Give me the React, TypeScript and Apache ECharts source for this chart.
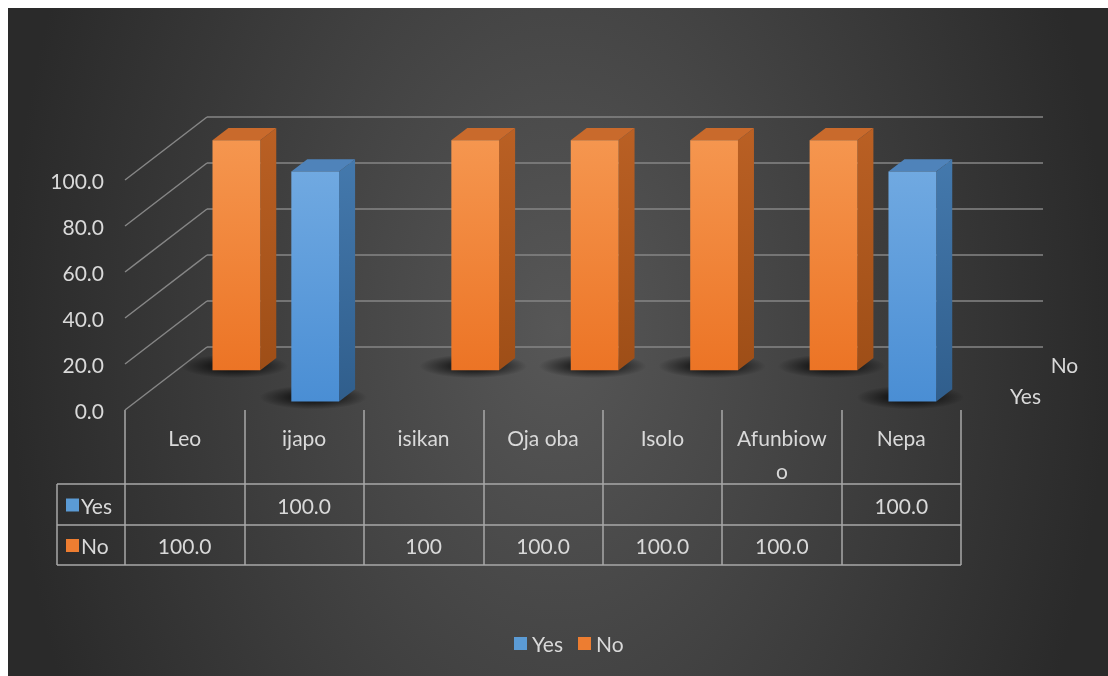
import React, { useEffect, useRef } from 'react';
import * as echarts from 'echarts';

const categories = ['Leo', 'ijapo', 'isikan', 'Oja oba', 'Isolo', 'Afunbiowo', 'Nepa'];
const seriesNames = ['Yes', 'No'];
const yesValues: (number | null)[] = [null, 100, null, null, null, null, 100];
const noValues: (number | null)[] = [100, null, 100, 100, 100, 100, null];
const yesTableLabels = ['', '100.0', '', '', '', '', '100.0'];
const noTableLabels = ['100.0', '', '100', '100.0', '100.0', '100.0', ''];
const yTicks = [0, 20, 40, 60, 80, 100];

const BLUE = '#5B9BD5';
const ORANGE = '#ED7D31';
const TXT = '#d9d9d9';
const FONT = 'Lato, sans-serif';
const FS = 21;

export default function App() {
  const ref = useRef<HTMLDivElement>(null);
  useEffect(() => {
    document.documentElement.style.overflow = 'hidden';
    document.body.style.overflow = 'hidden';
    const chart = echarts.init(ref.current!, null, { renderer: 'svg' });
    const DX = 82, DY = -63;
    const GRID = { left: 117, top: 172, width: 836, height: 230 };
    const ROWS: Record<string, number[]> = { Yes: [0.135, 0.33], No: [0.63, 0.825] };
    const TABLE_LINES = [476, 517, 557];
    const ROW_CENTERS = [497, 537.5];
    const TABLE_LEFT = 49;
    const GRIDC = '#868686';
    const TABLEC = '#a8a8a8';

    const lg = (a: string, b: string) =>
      new echarts.graphic.LinearGradient(0, 0, 0, 1, [
        { offset: 0, color: a },
        { offset: 1, color: b },
      ]);
    const shadowFill = () =>
      new echarts.graphic.RadialGradient(0.5, 0.5, 0.5, [
        { offset: 0, color: 'rgba(0,0,0,0.8)' },
        { offset: 0.45, color: 'rgba(0,0,0,0.55)' },
        { offset: 1, color: 'rgba(0,0,0,0)' },
      ]);
    const palette: Record<string, any> = {
      Yes: { front: lg('#70A9E1', '#4A8ED4'), side: lg('#4479AD', '#305E8C'), top: '#4F83BA' },
      No: { front: lg('#F5964F', '#EC7425'), side: lg('#BA6024', '#9E4E17'), top: '#C96A2C' },
    };

    const boxItem = (name: string) => (params: any, api: any) => {
      const [f0, f1] = ROWS[name];
      const i = api.value(0);
      const v = api.value(1);
      const top = api.coord([i, v]);
      const bot = api.coord([i, 0]);
      const w = api.size([1, 0])[0] * 0.4;
      const x0 = top[0] - w / 2 + DX * f0;
      const x1 = x0 + w;
      const yT = top[1] + DY * f0;
      const yB = bot[1] + DY * f0;
      const ddx = DX * (f1 - f0);
      const ddy = DY * (f1 - f0);
      const p = palette[name];
      return {
        type: 'group',
        children: [
          {
            type: 'ellipse',
            shape: { cx: x0 + w / 2 + ddx / 2 - 10, cy: yB + ddy / 2 + 2, rx: w / 2 + 30, ry: 12 },
            style: { fill: shadowFill() },
          },
          {
            type: 'polygon',
            shape: { points: [[x1, yT], [x1 + ddx, yT + ddy], [x1 + ddx, yB + ddy], [x1, yB]] },
            style: { fill: p.side },
          },
          {
            type: 'polygon',
            shape: { points: [[x0, yT], [x0 + ddx, yT + ddy], [x1 + ddx, yT + ddy], [x1, yT]] },
            style: { fill: p.top },
          },
          {
            type: 'rect',
            shape: { x: x0, y: yT, width: w, height: yB - yT },
            style: { fill: p.front },
          },
        ],
      };
    };

    const toData = (arr: (number | null)[]) =>
      arr.flatMap((v, i) => (v == null ? [] : [[i, v]]));

    const graphicEls: any[] = [];
    TABLE_LINES.forEach((y) => {
      graphicEls.push({
        type: 'line',
        shape: { x1: TABLE_LEFT, y1: y, x2: GRID.left + GRID.width, y2: y },
        style: { stroke: TABLEC, lineWidth: 1.5 },
      });
    });
    graphicEls.push({
      type: 'line',
      shape: { x1: TABLE_LEFT, y1: TABLE_LINES[0], x2: TABLE_LEFT, y2: TABLE_LINES[2] },
      style: { stroke: TABLEC, lineWidth: 1.5 },
    });
    seriesNames.forEach((n, k) => {
      graphicEls.push({
        type: 'rect',
        shape: { x: TABLE_LEFT + 9, y: ROW_CENTERS[k] - 6.5, width: 13, height: 13 },
        style: { fill: n === 'Yes' ? BLUE : ORANGE },
      });
      graphicEls.push({
        type: 'text',
        x: TABLE_LEFT + 24,
        y: ROW_CENTERS[k],
        style: { text: n, fill: TXT, fontSize: FS, fontFamily: FONT, verticalAlign: 'middle', align: 'left' },
      });
      const fc = (ROWS[n][0] + ROWS[n][1]) / 2;
      graphicEls.push({
        type: 'text',
        x: GRID.left + GRID.width + DX * fc + 30,
        y: GRID.top + GRID.height + DY * fc,
        style: { text: n, fill: TXT, fontSize: FS, fontFamily: FONT, verticalAlign: 'middle', align: 'left' },
      });
    });

    chart.setOption({
      animation: false,
      backgroundColor: 'transparent',
      grid: { left: GRID.left, top: GRID.top, width: GRID.width, height: GRID.height, containLabel: false },
      legend: {
        data: seriesNames,
        left: 501,
        top: 620,
        icon: 'rect',
        itemWidth: 13,
        itemHeight: 13,
        itemGap: 15,
        textStyle: { color: TXT, fontSize: FS, fontFamily: FONT },
      },
      xAxis: {
        type: 'category',
        data: categories,
        axisLine: { show: false },
        axisTick: { show: true, length: 155, interval: 0, lineStyle: { color: TABLEC, width: 1.5 } },
        axisLabel: {
          interval: 0,
          color: TXT,
          fontSize: FS,
          fontFamily: FONT,
          lineHeight: 33,
          margin: 11,
          width: 98,
          overflow: 'breakAll',
        },
        splitLine: { show: false },
      },
      yAxis: {
        type: 'value',
        min: 0,
        max: 100,
        interval: 20,
        axisLine: { show: false },
        axisTick: { show: false },
        splitLine: { show: false },
        axisLabel: {
          color: TXT,
          fontSize: FS,
          fontFamily: FONT,
          margin: 21,
          formatter: (v: number) => v.toFixed(1),
        },
      },
      graphic: { elements: graphicEls },
      series: [
        {
          type: 'custom',
          name: 'walls',
          z: 1,
          clip: false,
          silent: true,
          data: yTicks.map((v) => [0, v]),
          renderItem: (params: any, api: any) => {
            const cs = params.coordSys;
            const v = api.value(1);
            const y = api.coord([0, v])[1];
            const x = cs.x;
            return {
              type: 'group',
              children: [
                { type: 'line', shape: { x1: x, y1: y, x2: x + DX, y2: y + DY }, style: { stroke: GRIDC, lineWidth: 1.5 } },
                {
                  type: 'line',
                  shape: { x1: x + DX, y1: y + DY, x2: x + cs.width + DX, y2: y + DY },
                  style: { stroke: GRIDC, lineWidth: 1.5 },
                },
              ],
            };
          },
        },
        {
          type: 'custom',
          name: 'No',
          z: 2,
          clip: false,
          itemStyle: { color: ORANGE },
          data: toData(noValues),
          renderItem: boxItem('No'),
        },
        {
          type: 'custom',
          name: 'Yes',
          z: 3,
          clip: false,
          itemStyle: { color: BLUE },
          data: toData(yesValues),
          renderItem: boxItem('Yes'),
        },
        {
          type: 'custom',
          name: 'table',
          z: 4,
          clip: false,
          silent: true,
          data: categories.map((_, i) => [i, 0]),
          renderItem: (params: any, api: any) => {
            const i = params.dataIndex;
            const x = api.coord([api.value(0), 0])[0];
            const labels = [yesTableLabels[i], noTableLabels[i]];
            return {
              type: 'group',
              children: labels.map((t, k) => ({
                type: 'text',
                x,
                y: ROW_CENTERS[k],
                style: { text: t, fill: TXT, fontSize: FS, fontFamily: FONT, align: 'center', verticalAlign: 'middle' },
              })),
            };
          },
        },
      ],
    });
    return () => chart.dispose();
  }, []);

  return (
    <div
      ref={ref}
      style={{
        position: 'fixed',
        left: 8,
        top: 8,
        width: 1130,
        height: 700,
        background: 'radial-gradient(ellipse 550px 835px at 550px 320px, #575757 0%, #2a2a2a 100%)',
      }}
    />
  );
}
